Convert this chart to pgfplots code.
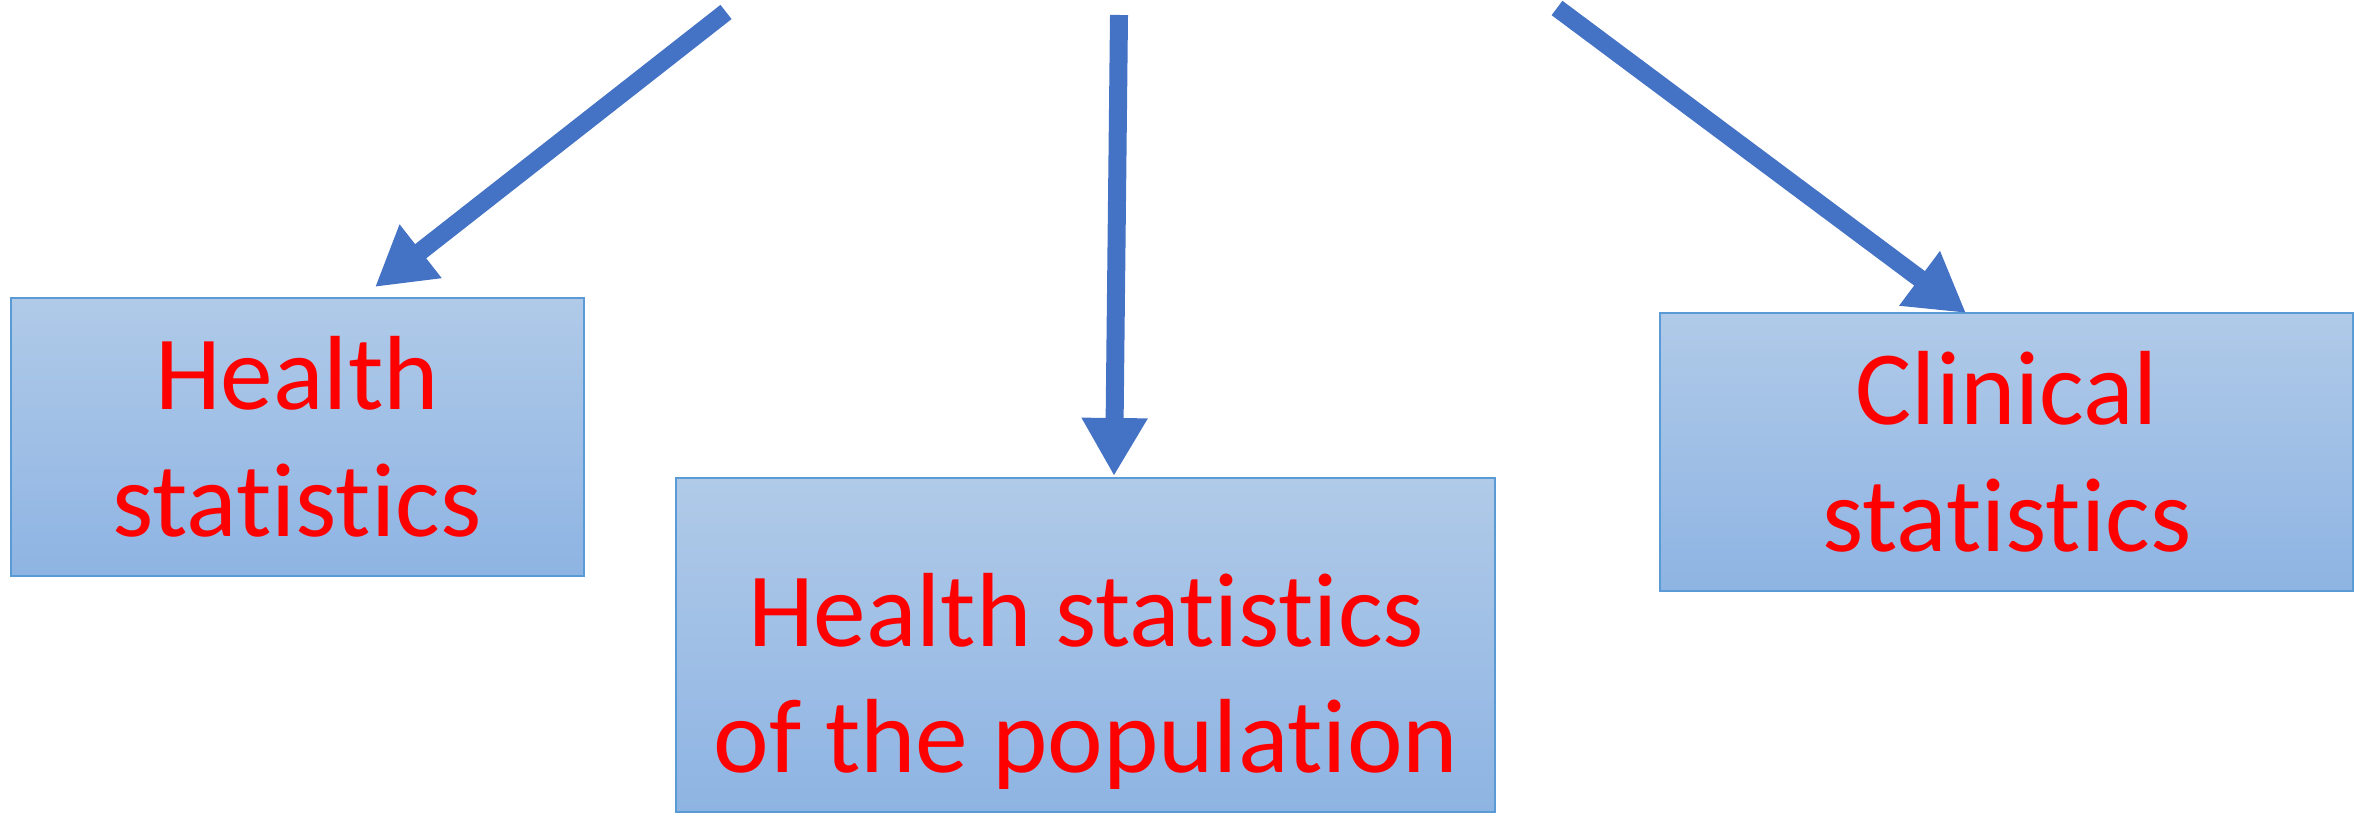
\documentclass[border=0pt]{standalone}
\usepackage{pgfplots}
\pgfplotsset{compat=1.18}
\usepackage{fontspec}
\setmainfont{Carlito}[Ligatures=CommonOff]
\usetikzlibrary{arrows.meta}
\definecolor{arrowblue}{HTML}{4472C4}
\definecolor{boxtop}{HTML}{B0CAE8}
\definecolor{boxbot}{HTML}{8EB4E3}
\definecolor{boxline}{HTML}{5B9BD5}
\begin{document}
\begin{tikzpicture}
\begin{axis}[
  width=237.1mm, height=81.4mm, scale only axis,
  xmin=0, xmax=2371, ymin=0, ymax=814, y dir=reverse,
  hide axis, clip=true,
]
\path (axis cs:0,0) rectangle (axis cs:2371,814);
% boxes
\shade[top color=boxtop, bottom color=boxbot, draw=boxline, line width=0.25mm]
  (axis cs:11,298) rectangle (axis cs:584,576);
\shade[top color=boxtop, bottom color=boxbot, draw=boxline, line width=0.25mm]
  (axis cs:676,478) rectangle (axis cs:1495,812);
\shade[top color=boxtop, bottom color=boxbot, draw=boxline, line width=0.25mm]
  (axis cs:1660,313) rectangle (axis cs:2353,591);
% arrows
\draw[arrowblue, line width=1.8mm, -{Triangle[length=5.8mm,width=6.4mm]}]
  (axis cs:726,12) -- (axis cs:375,287);
\draw[arrowblue, line width=1.8mm, -{Triangle[length=5.8mm,width=6.2mm]}]
  (axis cs:1119,15) -- (axis cs:1114,476);
\draw[arrowblue, line width=1.8mm, -{Triangle[length=5.8mm,width=6.4mm]}]
  (axis cs:1557,8) -- (axis cs:1966,313);
% texts
\tikzset{lbl/.style={anchor=base, text=red, inner sep=0pt, font=\fontsize{30}{36}\selectfont}}
\node[lbl] at (axis cs:297,409) {Health};
\node[lbl] at (axis cs:297,536) {statistics};
\node[lbl] at (axis cs:1086,646) {Health statistics};
\node[lbl] at (axis cs:1086,772) {of the population};
\node[lbl] at (axis cs:2007,424) {Clinical};
\node[lbl] at (axis cs:2007,551) {statistics};
\end{axis}
\end{tikzpicture}
\end{document}
